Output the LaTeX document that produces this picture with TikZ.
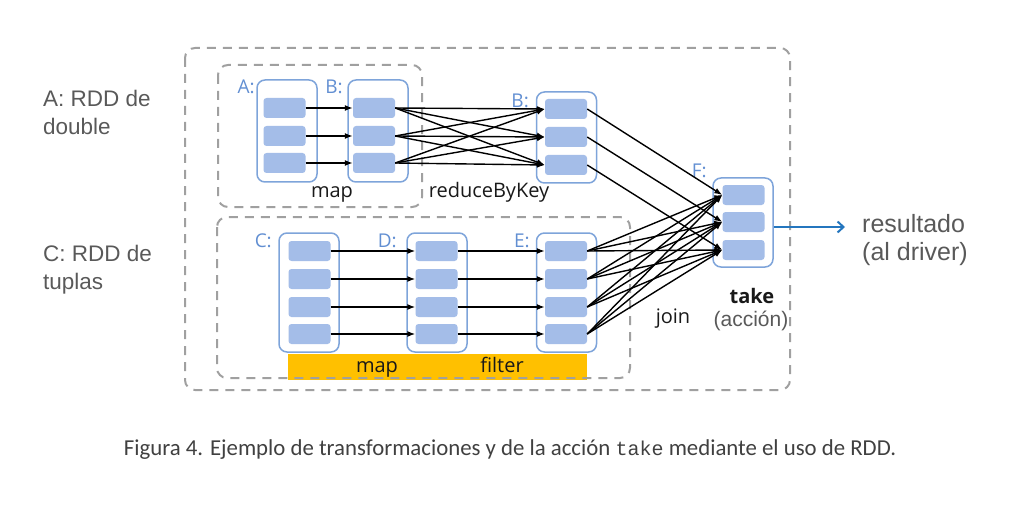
\documentclass[tikz,border=0pt]{standalone}
\usepackage{fontspec}
\setmainfont{Liberation Sans}
\setmonofont{Liberation Mono}
\newfontfamily\opfont{Open Sans}
\newfontfamily\capfont{Carlito}
\usetikzlibrary{arrows.meta}
\definecolor{cellblue}{RGB}{164,189,232}
\definecolor{rddblue}{RGB}{126,164,218}
\definecolor{lblblue}{RGB}{98,143,210}
\definecolor{dashgray}{RGB}{160,160,160}
\definecolor{txtgray}{RGB}{89,89,89}
\definecolor{capgray}{RGB}{64,64,64}
\definecolor{barorange}{RGB}{255,192,0}
\definecolor{outblue}{RGB}{36,118,190}
\tikzset{
  cell/.style={fill=cellblue, rounded corners=3pt, minimum width=42pt, minimum height=20pt, inner sep=0pt},
  rdd/.style={draw=rddblue, line width=1.5pt, rounded corners=8pt, fill=white, minimum width=60pt, inner sep=0pt},
  stage/.style={draw=dashgray, line width=2pt, dash pattern=on 9pt off 7pt, rounded corners=10pt},
  rddlabel/.style={text=lblblue, inner sep=0pt, anchor=base east, font=\opfont\fontsize{19}{19}\selectfont},
  oplabel/.style={text=black!90, inner sep=0pt, anchor=base, font=\opfont\fontsize{20}{20}\selectfont},
  sidelabel/.style={text=txtgray, inner sep=0pt, align=left, font=\fontsize{22.5}{28}\selectfont},
  link/.style={-{Latex[length=8pt,width=6pt]}, line width=1.4pt},
}
\begin{document}
\begin{tikzpicture}[x=1pt, y=-1pt]
\useasboundingbox (0,0) rectangle (1015,516);
\draw[stage] (185,48) rectangle (790,390);
\draw[stage] (218,65) rectangle (422,207);
\fill[barorange] (288,354) rectangle (587,380);
\draw[stage] (217,217) rectangle (630,378);

\node[rdd, minimum height=102pt] (boxA) at (287,131) {};
\node[rdd, minimum height=102pt] (boxB) at (378,131) {};
\node[rdd, minimum height=91pt] (boxK) at (566.5,137.5) {};
\node[rdd, minimum height=119pt] (boxC) at (309,292.5) {};
\node[rdd, minimum height=119pt] (boxD) at (437,292.5) {};
\node[rdd, minimum height=119pt] (boxE) at (566.5,292.5) {};
\node[rdd, minimum height=89pt] (boxF) at (743,222.5) {};

\foreach \n/\y in {1/108,2/136,3/163}{
  \node[cell] (a\n) at (284.5,\y) {};
  \node[cell] (b\n) at (374,\y) {};
}
\foreach \n/\y in {1/109,2/137,3/165}
  \node[cell] (k\n) at (566,\y) {};
\foreach \n/\y in {1/251,2/279,3/307,4/334}{
  \node[cell] (c\n) at (309.5,\y) {};
  \node[cell] (d\n) at (436.5,\y) {};
  \node[cell] (e\n) at (566,\y) {};
}
\foreach \n/\y in {1/195,2/222,3/250}
  \node[cell] (f\n) at (743.5,\y) {};

\node[rddlabel] (lA) at (255,94) {A:};
\node[rddlabel] (lB) at (343,94) {B:};
\node[rddlabel] (lK) at (529,108) {B:};
\node[rddlabel] (lC) at (272,247) {C:};
\node[rddlabel] (lD) at (397,247) {D:};
\node[rddlabel] (lE) at (530,247) {E:};
\node[rddlabel] (lF) at (707,178) {F:};

\foreach \i in {1,2,3}{
  \draw[link] (a\i.east) -- (b\i.west);
  \draw[link] (k\i.east) -- (f\i.west);
  \foreach \j in {1,2,3}
    \draw[link] (b\i.east) -- (k\j.west);
}
\foreach \i in {1,...,4}{
  \draw[link] (c\i.east) -- (d\i.west);
  \draw[link] (d\i.east) -- (e\i.west);
  \foreach \j in {1,2,3}
    \draw[link] (e\i.east) -- (f\j.west);
}

\coordinate (out) at (845,227);
\draw[outblue, line width=2pt, -{Straight Barb[length=6pt,width=11pt]}] (boxF.east |- out) -- (out);

\node[oplabel] (map1) at (332,197) {map};
\node[oplabel] (rbk) at (489,197) {reduceByKey};
\node[oplabel] (map2) at (377,372) {map};
\node[oplabel] (filt) at (502,372) {filter};
\node[oplabel] (join) at (673,323) {join};
\node[oplabel, font=\opfont\bfseries\fontsize{20}{20}\selectfont] (take) at (752,303) {take};
\node[text=txtgray, inner sep=0pt, anchor=base, font=\fontsize{21}{21}\selectfont] (acc) at (751,326) {(acción)};

\node[sidelabel, anchor=base west] (rddA) at (43,135) {A: RDD de\\double};
\node[sidelabel, anchor=base west] (rddC) at (43,289) {C: RDD de\\tuplas};
\node[sidelabel, anchor=base west, font=\fontsize{25}{28}\selectfont] (res) at (862,260) {resultado\\(al driver)};

\node[text=capgray, inner sep=0pt, anchor=base, font=\capfont\fontsize{22.8}{22.8}\selectfont] (cap) at (510,455)
  {Figura 4. Ejemplo de transformaciones y de la acción {\ttfamily\fontsize{20}{20}\selectfont take} mediante el uso de RDD.};
\end{tikzpicture}
\end{document}
